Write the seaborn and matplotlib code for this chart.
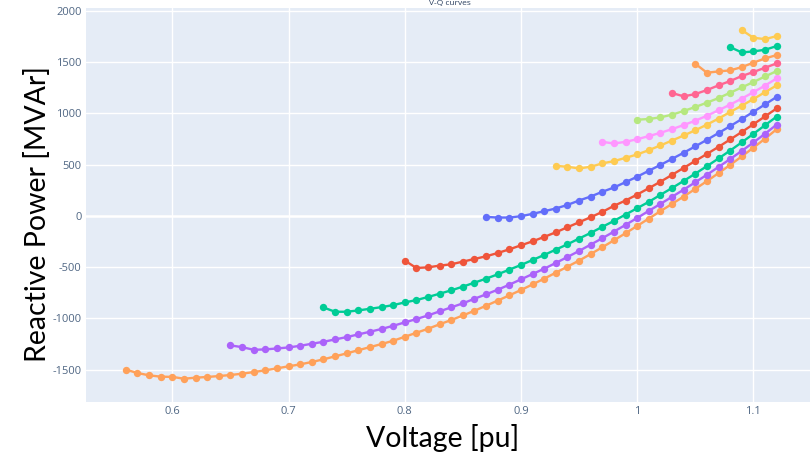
""" V-Q curves (reactive power vs voltage) for several loading levels """

import numpy as np
import pandas as pd
import seaborn as sns
from matplotlib import pyplot as plt

# #############################################
# Data: shared voltage grid (pu); every curve ends at 1.12 pu
voltage = [0.56, 0.57, 0.58, 0.59, 0.60, 0.61, 0.62, 0.63, 0.64, 0.65,
           0.66, 0.67, 0.68, 0.69, 0.70, 0.71, 0.72, 0.73, 0.74, 0.75,
           0.76, 0.77, 0.78, 0.79, 0.80, 0.81, 0.82, 0.83, 0.84, 0.85,
           0.86, 0.87, 0.88, 0.89, 0.90, 0.91, 0.92, 0.93, 0.94, 0.95,
           0.96, 0.97, 0.98, 0.99, 1.00, 1.01, 1.02, 1.03, 1.04, 1.05,
           1.06, 1.07, 1.08, 1.09, 1.10, 1.11, 1.12]

# Reactive power (MVAr)
q_orange_1 = [-1500, -1532, -1555, -1568, -1570, -1588, -1578, -1571, -1562, -1552,
              -1539, -1523, -1506, -1487, -1467, -1448, -1425, -1399, -1370, -1341,
              -1310, -1280, -1250, -1218, -1179, -1140, -1101, -1057, -1016, -971,
              -925, -876, -826, -775, -723, -668, -612, -554, -495, -436,
              -372, -306, -238, -169, -98, -26, 46, 117, 189, 263,
              339, 417, 497, 580, 665, 753, 845]
q_purple = [-1263, -1280, -1306, -1302, -1293, -1283, -1267, -1247, -1228, -1205,
            -1182, -1156, -1130, -1103, -1072, -1039, -1006, -971, -931, -892,
            -853, -808, -765, -720, -671, -619, -567, -515, -459, -401,
            -342, -280, -218, -153, -88, -20, 49, 117, 186, 256,
            328, 401, 477, 554, 634, 716, 801, 890]
q_green_1 = [-893, -935, -935, -922, -906, -890, -870, -844, -821, -791,
             -759, -726, -690, -651, -612, -570, -524, -479, -430, -381,
             -329, -277, -221, -166, -107, -49, 13, 75, 137, 205,
             272, 341, 412, 485, 560, 637, 717, 800, 884, 968]
q_red = [-436, -508, -502, -485, -472, -446, -420, -394, -362, -326,
         -287, -248, -205, -160, -111, -62, -13, 39, 98, 150,
         208, 270, 333, 400, 468, 536, 604, 673, 745, 818,
         894, 970, 1048]
q_blue = [-10, -16, -16, -3, 20, 46, 72, 107, 150, 189,
          235, 277, 329, 382, 440, 497, 556, 616, 678, 742,
          808, 875, 944, 1015, 1087, 1160]
q_yellow_1 = [488, 479, 463, 479, 512, 534, 566, 599, 641, 687,
              735, 784, 835, 890, 949, 1013, 1075, 1139, 1207, 1272]
q_lightpink = [722, 706, 722, 748, 778, 810, 846, 886, 928, 977,
               1030, 1085, 1144, 1206, 1271, 1340]
q_lightgreen = [938, 945, 961, 987, 1023, 1062, 1104, 1149, 1201, 1253,
                1305, 1360, 1412]
q_pink = [1198, 1166, 1188, 1227, 1273, 1315, 1364, 1403, 1445, 1487]
q_orange_2 = [1484, 1396, 1409, 1419, 1451, 1494, 1536, 1568]
q_green_2 = [1646, 1594, 1604, 1620, 1656]
q_yellow_2 = [1812, 1737, 1724, 1753]

series = {'c1': q_orange_1, 'c2': q_purple, 'c3': q_green_1, 'c4': q_red,
          'c5': q_blue, 'c6': q_yellow_1, 'c7': q_lightpink,
          'c8': q_lightgreen, 'c9': q_pink, 'c10': q_orange_2,
          'c11': q_green_2, 'c12': q_yellow_2}
colors = {'c1': '#FFA15A', 'c2': '#AB63FA', 'c3': '#00CC96', 'c4': '#EF553B',
          'c5': '#636EFA', 'c6': '#FECB52', 'c7': '#FF97FF', 'c8': '#B6E880',
          'c9': '#FF6692', 'c10': '#FFA15A', 'c11': '#00CC96', 'c12': '#FECB52'}

y_ticks = [-1500, -1000, -500, 0, 500, 1000, 1500, 2000]
x_ticks = [0.6, 0.7, 0.8, 0.9, 1.0, 1.1]


def fig_vq(outfile='out.png'):

    # Long table
    rows = []
    for name, qq in series.items():
        vv = voltage[-len(qq):]
        for v, q in zip(vv, qq):
            rows.append((name, v, q))
    df = pd.DataFrame(rows, columns=['curve', 'V', 'Q'])

    sns.set_theme(style='darkgrid',
                  rc={'axes.facecolor': '#E5ECF6', 'grid.color': 'white',
                      'grid.linewidth': 1.0, 'figure.facecolor': 'white'})
    plt.rcParams['font.family'] = ['Open Sans', 'DejaVu Sans']

    fig = plt.figure(figsize=(8.10, 4.61), dpi=100)
    ax = fig.add_axes([0.106, 0.128, 0.894, 0.855])

    sns.lineplot(data=df, x='V', y='Q', hue='curve', palette=colors,
                 hue_order=list(series.keys()), sort=False, legend=False,
                 marker='o', markersize=5.3, markeredgewidth=0, lw=1.7,
                 ax=ax)

    # zero line a bit heavier, plotly style
    ax.axhline(0., color='white', lw=1.8, zorder=0.5)

    ax.set_xlim(0.5256, 1.1487)
    ax.set_ylim(-1815, 2029)
    ax.set_xticks(x_ticks)
    ax.set_xticklabels([f'{t:g}' for t in x_ticks])
    ax.set_yticks(y_ticks)
    ax.set_yticklabels([f'{t:d}' for t in y_ticks])
    ax.tick_params(axis='both', labelsize=8, colors='#506784', pad=3,
                   length=0)
    for sp in ax.spines.values():
        sp.set_visible(False)

    # Labels
    ax.set_xlabel('Voltage [pu]', fontsize=20.5, color='black',
                  family=['Lato', 'DejaVu Sans'])
    ax.set_ylabel('Reactive Power [MVAr]', fontsize=20.5, color='black',
                  family=['Lato', 'DejaVu Sans'])
    ax.xaxis.set_label_coords(0.493, -0.055)
    ax.yaxis.set_label_coords(-0.048, 0.478)

    # Title (small, squeezed in the strip above the plot)
    fig.text(0.555, 0.999, 'V-Q curves', fontsize=6, color='#2a3f5f',
             ha='center', va='top')

    plt.savefig(outfile, dpi=100)
    print(f"Saved: {outfile}")


if __name__ == '__main__':
    fig_vq()
